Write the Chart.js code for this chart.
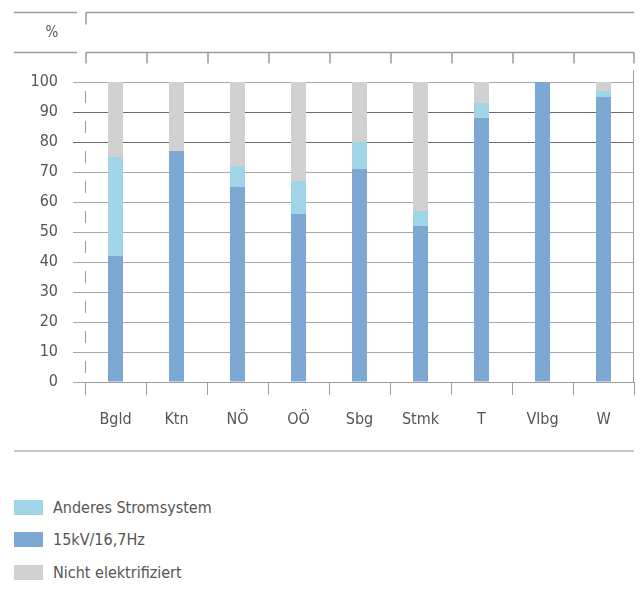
<!DOCTYPE html>
<html>
<head>
<meta charset="utf-8">
<script src="https://cdn.jsdelivr.net/npm/chart.js@4/dist/chart.umd.min.js"></script>
<style>
  html, body { margin: 0; padding: 0; background: #fff; }
  #wrap { position: relative; width: 641px; height: 614px; overflow: hidden;
          font-family: 'Liberation Sans Narrow', 'DejaVu Sans Condensed', sans-serif; color: #555; }
  #c { position: absolute; left: 0; top: 0; }
  #pct { position: absolute; left: 40px; top: 23px; width: 24px; text-align: center; font-size: 15px; }
  #sep { position: absolute; left: 14px; top: 450px; width: 620px; height: 2px; background: #c6c6c6; }
  #legend { position: absolute; left: 14px; top: 499px; }
  .item { display: flex; align-items: center; height: 32.5px; margin-top: 0; font-size: 16px; }
  .sw { width: 29px; height: 15px; margin-right: 10px; }
  .row { position: absolute; left: 0; display: flex; align-items: center; font-size: 16px; white-space: nowrap; }
</style>
</head>
<body>
<div id="wrap">
  <canvas id="c" width="641" height="460"></canvas>
  <div id="pct">%</div>
  <div id="sep"></div>
  <div id="legend"></div>
</div>
<script>
const categories = ['Bgld', 'Ktn', 'NÖ', 'OÖ', 'Sbg', 'Stmk', 'T', 'Vlbg', 'W'];
const kv15 = [42, 77, 65, 56, 71, 52, 88, 100, 95];
const anderes = [33, 0, 7, 11, 9, 5, 5, 0, 2];
const nicht = [25, 23, 28, 33, 20, 43, 7, 0, 3];
const yTicks = [0, 10, 20, 30, 40, 50, 60, 70, 80, 90, 100];

const seriesNames = ['15kV/16,7Hz', 'Anderes Stromsystem', 'Nicht elektrifiziert'];
const seriesColors = ['#7ea8d4', '#a0d4e7', '#d1d1d1'];
const legendOrder = [1, 0, 2];

const FONT = "'Liberation Sans Narrow', 'DejaVu Sans Condensed', sans-serif";
const LINE = '#9c9c9c';

const deco = {
  id: 'deco',
  beforeDatasetsDraw(chart) {
    const { ctx, chartArea: ca, scales: { x, y } } = chart;
    const n = categories.length;
    const step = (ca.right - ca.left) / n;
    ctx.save();
    ctx.strokeStyle = LINE;
    ctx.lineWidth = 1.5;
    // header frame
    const h1 = 12.5, h2 = 52.5;
    ctx.beginPath();
    ctx.moveTo(14, h1); ctx.lineTo(77, h1);
    ctx.moveTo(14, h2); ctx.lineTo(77, h2);
    ctx.moveTo(ca.left + 1, h1); ctx.lineTo(ca.right, h1);
    ctx.moveTo(ca.left + 1, h1); ctx.lineTo(ca.left + 1, h1 + 12);
    ctx.moveTo(ca.left + 1, h2); ctx.lineTo(ca.right, h2);
    for (let i = 0; i <= n; i++) {
      const px = ca.left + 1 + i * step - (i === n ? 1 : 0);
      ctx.moveTo(px, h2); ctx.lineTo(px, h2 + 11);
    }
    ctx.stroke();
    // right border line
    ctx.lineWidth = 1;
    ctx.beginPath();
    ctx.moveTo(ca.right - 0.5, 70); ctx.lineTo(ca.right - 0.5, ca.bottom);
    ctx.stroke();
    // dashed left axis line
    ctx.beginPath();
    for (let i = 0; i < yTicks.length - 1; i++) {
      const mid = (y.getPixelForValue(yTicks[i]) + y.getPixelForValue(yTicks[i + 1])) / 2;
      ctx.moveTo(ca.left + 0.5, mid - 6); ctx.lineTo(ca.left + 0.5, mid + 6);
    }
    ctx.stroke();
    ctx.restore();
  }
};

const datasets = [kv15, anderes, nicht].map((d, i) => ({
  label: seriesNames[i],
  data: d,
  backgroundColor: seriesColors[i],
  borderWidth: 0,
  categoryPercentage: 1,
  barPercentage: 0.246
}));

new Chart(document.getElementById('c'), {
  type: 'bar',
  data: { labels: categories, datasets },
  plugins: [deco],
  options: {
    responsive: false,
    animation: false,
    layout: { padding: { left: 0, right: 7, top: 82, bottom: 28 } },
    plugins: { legend: { display: false }, tooltip: { enabled: false } },
    scales: {
      x: {
        stacked: true,
        afterFit: s => { s.height = 50; },
        grid: { drawOnChartArea: false, drawTicks: true, tickLength: 13, tickColor: LINE, tickWidth: 1 },
        border: { display: true, color: LINE, width: 1 },
        ticks: { color: '#555', font: { family: FONT, size: 16 }, padding: 15 }
      },
      y: {
        stacked: true,
        min: 0, max: 100,
        afterFit: s => { s.width = 85; },
        afterBuildTicks: s => { s.ticks = yTicks.map(v => ({ value: v })); },
        grid: {
          color: c => (c.tick && (c.tick.value === 80 || c.tick.value === 90)) ? '#6a6a6a' : '#a8a8a8',
          lineWidth: 1,
          drawTicks: true, tickLength: 12,
          tickColor: c => (c.tick && (c.tick.value === 80 || c.tick.value === 90)) ? '#6a6a6a' : '#a8a8a8'
        },
        border: { display: false },
        ticks: { color: '#555', font: { family: FONT, size: 16 }, padding: 15 }
      }
    }
  }
});

const leg = document.getElementById('legend');
legendOrder.forEach((k, i) => {
  const row = document.createElement('div');
  row.className = 'row';
  row.style.top = (i * 32.5) + 'px';
  row.style.height = '16px';
  const sw = document.createElement('span');
  sw.className = 'sw';
  sw.style.background = seriesColors[k];
  sw.style.display = 'inline-block';
  const tx = document.createElement('span');
  tx.textContent = seriesNames[k];
  row.appendChild(sw); row.appendChild(tx);
  leg.appendChild(row);
});
</script>
</body>
</html>
